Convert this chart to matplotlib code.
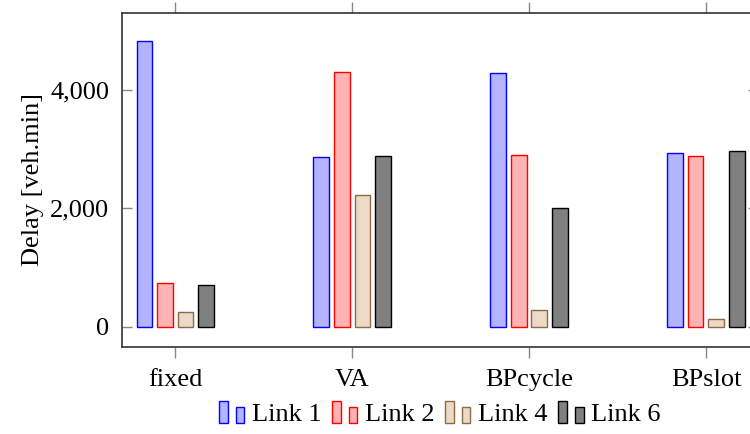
import matplotlib
matplotlib.use("Agg")
import matplotlib.pyplot as plt
from matplotlib.patches import Rectangle
from matplotlib.legend_handler import HandlerBase
from matplotlib.ticker import FuncFormatter
import numpy as np

plt.rcParams["font.family"] = ["Liberation Serif", "DejaVu Serif"]
plt.rcParams["font.size"] = 19

GROUPS = ["fixed", "VA", "BPcycle", "BPslot"]
SERIES = ["Link 1", "Link 2", "Link 4", "Link 6"]
VALUES = {
    "Link 1": [4830, 2875, 4280, 2935],
    "Link 2": [737, 4298, 2908, 2880],
    "Link 4": [258, 2222, 287, 140],
    "Link 6": [704, 2890, 2008, 2976],
}
FILLS = ["#b3b3ff", "#ffb3b3", "#ecd9c6", "#808080"]
EDGES = ["#0000ff", "#ff0000", "#8c6a46", "#000000"]


class TwoBarHandler(HandlerBase):
    # pgfplots-style ybar legend: two little bars, the first one taller
    def create_artists(self, legend, orig_handle, xdescent, ydescent,
                       width, height, fontsize, trans):
        fc = orig_handle.get_facecolor()
        ec = orig_handle.get_edgecolor()
        w = width * 0.34
        r1 = Rectangle((-xdescent, -ydescent), w, height, fc=fc, ec=ec,
                       lw=1, transform=trans)
        r2 = Rectangle((-xdescent + width - w, -ydescent), w, height * 0.72,
                       fc=fc, ec=ec, lw=1, transform=trans)
        return [r1, r2]


fig = plt.figure(figsize=(7.5, 4.34), dpi=100)
ax = fig.add_axes([122 / 750, 87 / 434, 636 / 750, 334 / 434])

x = np.arange(len(GROUPS))
step = 0.116
width = 0.088
handles = []
for i, (name, fc, ec) in enumerate(zip(SERIES, FILLS, EDGES)):
    bc = ax.bar(x + (i - 1.5) * step, VALUES[name], width=width,
                color=fc, edgecolor=ec, linewidth=1, label=name)
    handles.append(bc.patches[0])

ax.set_xlim(-0.3, 3.294)
ax.set_ylim(-340, 5300)
ax.set_xticks(x)
ax.set_xticklabels(GROUPS)
ax.set_yticks([0, 2000, 4000])
ax.yaxis.set_major_formatter(FuncFormatter(lambda v, p: f"{int(v):,}"))

ax.tick_params(axis="x", top=True, bottom=True, direction="out", length=8,
               width=1, color="#888888", pad=8)
ax.tick_params(axis="y", left=True, right=True, direction="in", length=7,
               width=1, color="#888888", pad=9)
for s in ax.spines.values():
    s.set_color("#333333")
    s.set_linewidth(1.2)

ax.set_ylabel("Delay [veh.min]")
ax.yaxis.set_label_coords(-0.123, 0.5)

ax.legend(handles, SERIES, handler_map={Rectangle: TwoBarHandler()},
          loc="center", bbox_to_anchor=(0.5, -0.2), ncol=4, frameon=False,
          handlelength=0.95, handleheight=0.85, handletextpad=0.3,
          columnspacing=0.4, borderpad=0)

fig.savefig("out.png", dpi=100)
